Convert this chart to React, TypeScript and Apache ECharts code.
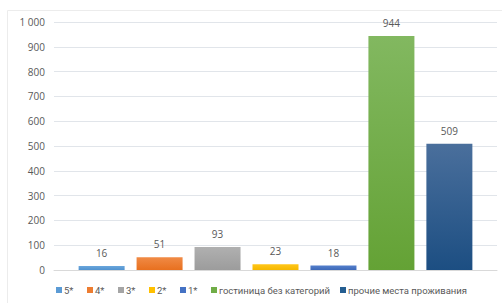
import React, { useEffect, useRef } from "react";
import * as echarts from "echarts";

const seriesNames = ["5*", "4*", "3*", "2*", "1*", "гостиница без категорий", "прочие места проживания"];
const seriesValues = [16, 51, 93, 23, 18, 944, 509];
const topColors = ["#6aa6dc", "#f08a45", "#b0b0b0", "#ffc61a", "#5580cc", "#82b860", "#4a6f9c"];
const bottomColors = ["#5192cf", "#e8701f", "#9c9c9c", "#f5b800", "#3d68b8", "#64a235", "#1c4e82"];
const legendColors = ["#5b9bd5", "#ed7d31", "#a5a5a5", "#ffc000", "#4472c4", "#70ad47", "#255e91"];
const legendLefts = [56, 87, 118, 149, 180, 211, 340];
const yTicks = { min: 0, max: 1000, interval: 100 };

export default function App() {
  const ref = useRef<HTMLDivElement>(null);
  useEffect(() => {
    const chart = echarts.init(ref.current!, null, { renderer: "svg" });
    const font = "'Open Sans', 'Noto Sans', sans-serif";
    chart.setOption({
      animation: false,
      backgroundColor: "#ffffff",
      graphic: [
        {
          type: "rect",
          shape: { x: 7.5, y: 10.5, width: 520, height: 320 },
          style: { fill: "none", stroke: "#ececec", lineWidth: 1 },
          silent: true,
          z: -10,
        },
      ],
      grid: { left: 54, right: 5, top: 22, bottom: 33, containLabel: false },
      legend: seriesNames.map((n, i) => ({
        top: 285,
        left: legendLefts[i],
        padding: 0,
        itemWidth: 6,
        itemHeight: 6,
        icon: "rect",
        textStyle: { color: "#595959", fontSize: 9.5, fontFamily: "Roboto, 'Noto Sans', sans-serif", padding: [0, 0, 0, -3] },
        data: [{ name: n, itemStyle: { color: legendColors[i] } }],
      })),
      xAxis: {
        type: "category",
        data: [""],
        axisLine: { show: true, lineStyle: { color: "#d9d9d9" } },
        axisTick: { show: false },
        axisLabel: { show: false },
      },
      yAxis: {
        type: "value",
        min: yTicks.min,
        max: yTicks.max,
        interval: yTicks.interval,
        axisLine: { show: false },
        axisTick: { show: false },
        axisLabel: {
          color: "#595959",
          fontSize: 10,
          fontFamily: font,
          margin: 9,
          formatter: (v: number) => String(v).replace(/\B(?=(\d{3})+(?!\d))/g, " "),
        },
        splitLine: { lineStyle: { color: "#e1e5ea" } },
      },
      series: seriesNames.map((name, i) => ({
        name,
        type: "bar",
        data: [seriesValues[i]],
        barWidth: 46,
        barGap: "26%",
        itemStyle: {
          color: new echarts.graphic.LinearGradient(0, 0, 0, 1, [
            { offset: 0, color: topColors[i] },
            { offset: 1, color: bottomColors[i] },
          ]),
        },
        label: {
          show: true,
          position: "top",
          distance: 8,
          color: "#595959",
          fontSize: 10,
          fontFamily: font,
        },
      })),
    });
    return () => chart.dispose();
  }, []);
  return <div ref={ref} style={{ position: "fixed", left: 0, top: 0, width: 502, height: 303 }} />;
}
